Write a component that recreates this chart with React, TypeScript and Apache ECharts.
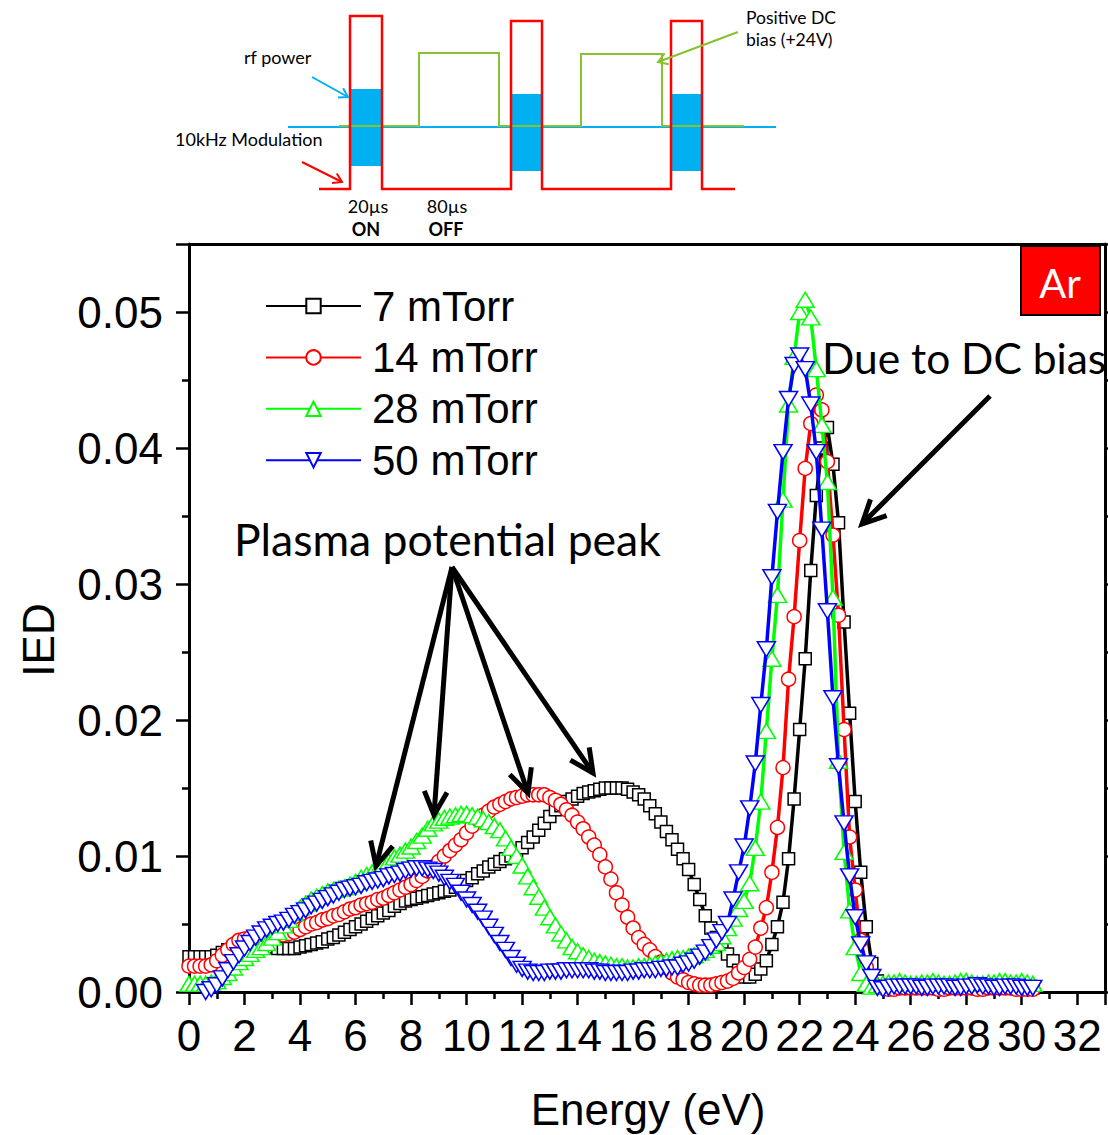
import React, { useEffect, useRef } from 'react';
import * as echarts from 'echarts';

const ENERGY = [
  0, 0.2, 0.4, 0.6, 0.8, 1, 1.2, 1.4, 1.6, 1.8,
  2, 2.2, 2.4, 2.6, 2.8, 3, 3.2, 3.4, 3.6, 3.8,
  4, 4.2, 4.4, 4.6, 4.8, 5, 5.2, 5.4, 5.6, 5.8,
  6, 6.2, 6.4, 6.6, 6.8, 7, 7.2, 7.4, 7.6, 7.8,
  8, 8.2, 8.4, 8.6, 8.8, 9, 9.2, 9.4, 9.6, 9.8,
  10, 10.2, 10.4, 10.6, 10.8, 11, 11.2, 11.4, 11.6, 11.8,
  12, 12.2, 12.4, 12.6, 12.8, 13, 13.2, 13.4, 13.6, 13.8,
  14, 14.2, 14.4, 14.6, 14.8, 15, 15.2, 15.4, 15.6, 15.8,
  16, 16.2, 16.4, 16.6, 16.8, 17, 17.2, 17.4, 17.6, 17.8,
  18, 18.2, 18.4, 18.6, 18.8, 19, 19.2, 19.4, 19.6, 19.8,
  20, 20.2, 20.4, 20.6, 20.8, 21, 21.2, 21.4, 21.6, 21.8,
  22, 22.2, 22.4, 22.6, 22.8, 23, 23.2, 23.4, 23.6, 23.8,
  24, 24.2, 24.4, 24.6, 24.8, 25, 25.2, 25.4, 25.6, 25.8,
  26, 26.2, 26.4, 26.6, 26.8, 27, 27.2, 27.4, 27.6, 27.8,
  28, 28.2, 28.4, 28.6, 28.8, 29, 29.2, 29.4, 29.6, 29.8,
  30, 30.2, 30.4,
];

const IED_7 = [
  .0026, .0026, .0026, .0026, .0026, .0027, .0029, .0031, .0033, .0035,
  .0036, .0036, .0035, .0034, .0033, .0033, .0032, .0032, .0032, .0032,
  .0033, .0034, .0035, .0036, .0037, .0039, .0040, .0042, .0044, .0046,
  .0048, .0050, .0052, .0054, .0056, .0058, .0060, .0063, .0065, .0067,
  .0068, .0069, .0070, .0071, .0072, .0073, .0074, .0075, .0077, .0079,
  .0082, .0084, .0087, .0089, .0092, .0094, .0096, .0098, .0100, .0102,
  .0106, .0110, .0114, .0119, .0124, .0129, .0134, .0137, .0140, .0142,
  .0144, .0146, .0147, .0148, .0149, .0150, .0150, .0150, .0150, .0149,
  .0147, .0145, .0142, .0137, .0131, .0125, .0118, .0112, .0105, .0098,
  .0090, .0079, .0068, .0056, .0047, .0040, .0034, .0028, .0023, .0016,
  .0011, .0011, .0013, .0017, .0023, .0035, .0048, .0066, .0098, .0142,
  .0193, .0245, .0310, .0365, .0400, .0415, .0388, .0345, .0272, .0205,
  .0140, .0088, .0048, .0021, .0008, .0004, .0003, .0003, .0003, .0004,
  .0004, .0004, .0004, .0004, .0004, .0003, .0003, .0003, .0004, .0004,
  .0004, .0004, .0003, .0003, .0003, .0003, .0004, .0004, .0004, .0003,
  .0003, .0003, .0003,
];

const IED_14 = [
  .0019, .0019, .0019, .0019, .0020, .0023, .0027, .0031, .0035, .0038,
  .0039, .0040, .0040, .0041, .0041, .0041, .0042, .0042, .0043, .0044,
  .0046, .0048, .0050, .0051, .0053, .0054, .0056, .0057, .0059, .0061,
  .0062, .0064, .0065, .0066, .0068, .0069, .0071, .0073, .0075, .0077,
  .0079, .0082, .0085, .0089, .0092, .0096, .0100, .0104, .0108, .0112,
  .0117, .0122, .0127, .0130, .0133, .0136, .0138, .0140, .0142, .0143,
  .0144, .0145, .0145, .0145, .0145, .0143, .0141, .0138, .0134, .0130,
  .0125, .0120, .0114, .0108, .0101, .0092, .0083, .0073, .0064, .0055,
  .0047, .0040, .0035, .0031, .0026, .0022, .0018, .0014, .0011, .0009,
  .0007, .0006, .0005, .0005, .0005, .0006, .0007, .0008, .0010, .0014,
  .0018, .0024, .0033, .0047, .0062, .0088, .0121, .0165, .0230, .0276,
  .0332, .0385, .0418, .0439, .0428, .0390, .0336, .0277, .0193, .0114,
  .0075, .0038, .0018, .0008, .0004, .0003, .0002, .0002, .0003, .0003,
  .0003, .0003, .0003, .0003, .0003, .0002, .0002, .0003, .0003, .0003,
  .0003, .0003, .0002, .0002, .0003, .0003, .0003, .0003, .0003, .0002,
  .0002, .0002, .0002,
];

const IED_28 = [
  .0006, .0006, .0006, .0006, .0007, .0008, .0011, .0014, .0018, .0022,
  .0025, .0028, .0031, .0033, .0036, .0040, .0044, .0049, .0053, .0058,
  .0062, .0065, .0068, .0070, .0072, .0074, .0075, .0076, .0077, .0079,
  .0081, .0084, .0086, .0088, .0090, .0093, .0096, .0099, .0101, .0104,
  .0107, .0111, .0115, .0120, .0124, .0126, .0128, .0129, .0130, .0131,
  .0131, .0130, .0129, .0127, .0125, .0122, .0119, .0113, .0106, .0100,
  .0093, .0085, .0077, .0070, .0062, .0055, .0049, .0043, .0038, .0033,
  .0030, .0027, .0025, .0023, .0022, .0021, .0020, .0019, .0019, .0018,
  .0018, .0019, .0019, .0020, .0021, .0022, .0023, .0024, .0025, .0025,
  .0026, .0027, .0029, .0031, .0034, .0036, .0041, .0047, .0054, .0061,
  .0067, .0080, .0106, .0140, .0192, .0245, .0292, .0362, .0432, .0467,
  .0500, .0509, .0496, .0458, .0417, .0375, .0290, .0170, .0103, .0060,
  .0033, .0014, .0006, .0004, .0005, .0006, .0007, .0007, .0008, .0007,
  .0006, .0006, .0007, .0007, .0008, .0007, .0006, .0006, .0007, .0008,
  .0008, .0007, .0006, .0006, .0007, .0007, .0008, .0008, .0007, .0007,
  .0008, .0007, .0006,
];

const IED_50 = [
  null, null, null, .0000, .0002, .0005, .0010, .0016, .0022, .0027,
  .0032, .0036, .0040, .0043, .0046, .0048, .0050, .0051, .0053, .0056,
  .0058, .0060, .0063, .0065, .0067, .0069, .0071, .0073, .0075, .0076,
  .0077, .0078, .0080, .0081, .0082, .0083, .0085, .0086, .0087, .0089,
  .0090, .0091, .0091, .0090, .0089, .0087, .0084, .0081, .0078, .0073,
  .0068, .0064, .0059, .0054, .0048, .0042, .0036, .0031, .0025, .0020,
  .0017, .0015, .0014, .0014, .0014, .0015, .0015, .0015, .0016, .0016,
  .0016, .0016, .0016, .0015, .0015, .0014, .0014, .0014, .0014, .0014,
  .0015, .0015, .0016, .0016, .0016, .0017, .0017, .0018, .0018, .0020,
  .0021, .0023, .0026, .0029, .0033, .0038, .0044, .0050, .0068, .0088,
  .0107, .0135, .0168, .0211, .0252, .0305, .0353, .0397, .0436, .0461,
  .0468, .0458, .0432, .0397, .0340, .0280, .0216, .0166, .0124, .0085,
  .0055, .0035, .0021, .0011, .0003, .0002, .0003, .0004, .0004, .0004,
  .0004, .0004, .0003, .0003, .0004, .0004, .0004, .0004, .0003, .0003,
  .0004, .0004, .0005, .0004, .0004, .0003, .0003, .0004, .0004, .0004,
  .0003, .0003, .0003,
];

const SERIES_NAMES = ['7 mTorr', '14 mTorr', '28 mTorr', '50 mTorr'];
const SERIES_VALUES = [IED_7, IED_14, IED_28, IED_50];
const SERIES_COLORS = ['#000000', '#FF0000', '#00FF00', '#0000FF'];
const SERIES_SYMBOLS = ['rect', 'circle', 'triangle', 'triangle'];
const SERIES_SYMBOL_SIZES: any[] = [12, 14, [18, 15], [18, 15]];
const SERIES_ROTATE = [0, 0, 0, 180];

const X_MIN = 0;
const X_MAX = 33;
const X_STEP = 2;
const Y_MIN = 0;
const Y_MAX = 0.055;
const Y_STEP = 0.01;

const AXIS_FONT = '"Liberation Sans", Arial, sans-serif';
const NOTE_FONT = 'Lato, "Noto Sans", sans-serif';

function arrow(x1: number, y1: number, x2: number, y2: number, color: string, width: number, headLen: number, headDeg: number, z = 50) {
  const a = Math.atan2(y2 - y1, x2 - x1);
  const p = (headDeg * Math.PI) / 180;
  const h1 = [x2 - headLen * Math.cos(a - p), y2 - headLen * Math.sin(a - p)];
  const h2 = [x2 - headLen * Math.cos(a + p), y2 - headLen * Math.sin(a + p)];
  return [
    { type: 'line', z, shape: { x1, y1, x2, y2 }, style: { stroke: color, lineWidth: width, lineCap: 'butt' } },
    { type: 'polyline', z, shape: { points: [h1, [x2, y2], h2] }, style: { stroke: color, lineWidth: width, fill: null, lineJoin: 'miter', lineCap: 'butt' } },
  ];
}

function txt(text: string, x: number, y: number, font: string, fill = '#000', align = 'left', rotation = 0, z = 60) {
  return {
    type: 'text', x, y, rotation, z,
    style: { text, font, fill, textAlign: align, textVerticalAlign: 'middle', align, verticalAlign: 'middle' },
  };
}

export default function App() {
  const ref = useRef<HTMLDivElement>(null);

  useEffect(() => {
    if (!ref.current) return;
    const chart = echarts.init(ref.current, undefined, { renderer: 'svg' });

    const blueC = '#00B0F0';
    const greenC = '#86C232';
    const redC = '#FF0000';

    const schematic: any[] = [
      { type: 'rect', z: 10, shape: { x: 350, y: 89, width: 32, height: 77 }, style: { fill: blueC } },
      { type: 'rect', z: 10, shape: { x: 511, y: 94, width: 31, height: 77 }, style: { fill: blueC } },
      { type: 'rect', z: 10, shape: { x: 671, y: 94, width: 31, height: 77 }, style: { fill: blueC } },
      { type: 'line', z: 11, shape: { x1: 288, y1: 127, x2: 776, y2: 127 }, style: { stroke: blueC, lineWidth: 2 } },
      {
        type: 'polyline', z: 12,
        shape: { points: [[339, 126], [419, 126], [419, 53], [499, 53], [499, 126], [581, 126], [581, 54], [662, 54], [662, 126], [744, 126]] },
        style: { stroke: greenC, lineWidth: 2, fill: null },
      },
      {
        type: 'polyline', z: 13,
        shape: { points: [[319, 189], [350, 189], [350, 16], [382, 16], [382, 189], [511, 189], [511, 21], [542, 21], [542, 189], [671, 189], [671, 21], [702, 21], [702, 189], [735, 189]] },
        style: { stroke: redC, lineWidth: 2.5, fill: null },
      },
      ...arrow(312, 77, 348, 97, blueC, 2, 10, 32, 14),
      ...arrow(302, 162, 342, 182, redC, 2, 10, 32, 14),
      ...arrow(738, 32, 658, 62, greenC, 2, 11, 32, 14),
      txt('rf power', 244, 57, `18px ${NOTE_FONT}`, '#000'),
      txt('10kHz Modulation', 175, 139, `18px ${NOTE_FONT}`, '#000'),
      txt('Positive DC', 746, 17, `17.5px ${NOTE_FONT}`, '#000'),
      txt('bias (+24V)', 746, 39, `17.5px ${NOTE_FONT}`, '#000'),
      txt('20µs', 368, 206, `18px ${NOTE_FONT}`, '#000', 'center'),
      txt('ON', 366, 229, `bold 18px ${NOTE_FONT}`, '#000', 'center'),
      txt('80µs', 447, 206, `18px ${NOTE_FONT}`, '#000', 'center'),
      txt('OFF', 446, 229, `bold 18px ${NOTE_FONT}`, '#000', 'center'),
    ];

    const notes: any[] = [
      { type: 'rect', z: 70, shape: { x: 1021, y: 246, width: 79, height: 69 }, style: { fill: '#FF0000', stroke: '#000', lineWidth: 2 } },
      txt('Ar', 1060, 283, `40px ${NOTE_FONT}`, '#fff', 'center', 0, 71),
      txt('Due to DC bias', 822, 357, `42.5px ${NOTE_FONT}`, '#000', 'left', 0, 71),
      txt('Plasma potential peak', 234, 538, `44.5px ${NOTE_FONT}`, '#000', 'left', 0, 71),
      ...arrow(990, 396, 862, 524, '#000', 5, 26, 26, 72),
      ...arrow(452, 567, 376, 866, '#000', 5, 26, 26, 72),
      ...arrow(452, 567, 434, 815, '#000', 5, 26, 26, 72),
      ...arrow(452, 567, 528, 793, '#000', 5, 26, 26, 72),
      ...arrow(452, 567, 593, 773, '#000', 5, 26, 26, 72),
      txt('IED', 38, 640, `44px ${AXIS_FONT}`, '#000', 'center', Math.PI / 2, 71),
      txt('Energy (eV)', 648, 1109, `44px ${AXIS_FONT}`, '#000', 'center', 0, 71),
    ];

    const tickStyle = { color: '#000', width: 2.5 };

    const series = SERIES_NAMES.map((name, i) => ({
      name,
      type: 'line',
      data: ENERGY.map((e, k) => [e, SERIES_VALUES[i][k]]),
      xAxisIndex: 0,
      yAxisIndex: 0,
      symbol: SERIES_SYMBOLS[i],
      symbolSize: SERIES_SYMBOL_SIZES[i],
      symbolRotate: SERIES_ROTATE[i],
      showSymbol: true,
      connectNulls: false,
      lineStyle: { color: SERIES_COLORS[i], width: 3.5 },
      itemStyle: { color: '#ffffff', borderColor: SERIES_COLORS[i], borderWidth: 1.5 },
      emphasis: { disabled: true },
      silent: true,
      z: 2 + i,
    }));

    chart.setOption({
      animation: false,
      backgroundColor: '#ffffff',
      grid: { left: 189, right: 3, top: 244, bottom: 143, containLabel: false },
      legend: {
        orient: 'vertical',
        left: 265,
        top: 285,
        padding: 0,
        itemWidth: 95,
        itemHeight: 18,
        itemGap: 9.4,
        selectedMode: false,
        data: SERIES_NAMES,
        textStyle: { fontSize: 42, fontFamily: AXIS_FONT, color: '#000', lineHeight: 42, padding: [0, 0, 0, 6] },
      },
      xAxis: [
        {
          type: 'value', min: X_MIN, max: X_MAX, interval: X_STEP, position: 'bottom',
          axisLine: { show: true, onZero: false, lineStyle: { color: '#000', width: 3 } },
          axisTick: { show: true, inside: false, length: 13, lineStyle: tickStyle },
          minorTick: { show: true, splitNumber: 2, length: 7, lineStyle: tickStyle },
          axisLabel: { fontSize: 44, fontFamily: AXIS_FONT, color: '#000', margin: 21, showMaxLabel: false },
          splitLine: { show: false },
          minorSplitLine: { show: false },
        },
        {
          type: 'value', min: X_MIN, max: X_MAX, interval: X_STEP, position: 'top',
          axisLine: { show: true, onZero: false, lineStyle: { color: '#000', width: 3 } },
          axisTick: { show: false },
          axisLabel: { show: false },
          splitLine: { show: false },
        },
      ],
      yAxis: [
        {
          type: 'value', min: Y_MIN, max: Y_MAX, interval: Y_STEP, position: 'left',
          axisLine: { show: true, onZero: false, lineStyle: { color: '#000', width: 3 } },
          axisTick: { show: true, inside: false, length: 13, lineStyle: tickStyle },
          minorTick: { show: true, splitNumber: 2, length: 7, lineStyle: tickStyle },
          axisLabel: {
            fontSize: 44, fontFamily: AXIS_FONT, color: '#000', margin: 26, showMaxLabel: false,
            formatter: (v: number) => v.toFixed(2),
          },
          splitLine: { show: false },
          minorSplitLine: { show: false },
        },
        {
          type: 'value', min: Y_MIN, max: Y_MAX, interval: Y_STEP, position: 'right',
          axisLine: { show: true, onZero: false, lineStyle: { color: '#000', width: 3 } },
          axisTick: { show: true, inside: false, length: 8, lineStyle: tickStyle },
          minorTick: { show: true, splitNumber: 2, length: 8, lineStyle: tickStyle },
          axisLabel: { show: false },
          splitLine: { show: false },
        },
      ],
      series,
      graphic: { elements: [...schematic, ...notes] },
    });

    return () => chart.dispose();
  }, []);

  return (
    <div
      ref={ref}
      style={{ position: 'fixed', left: 0, top: 0, width: 1108, height: 1135, background: '#fff' }}
    />
  );
}
